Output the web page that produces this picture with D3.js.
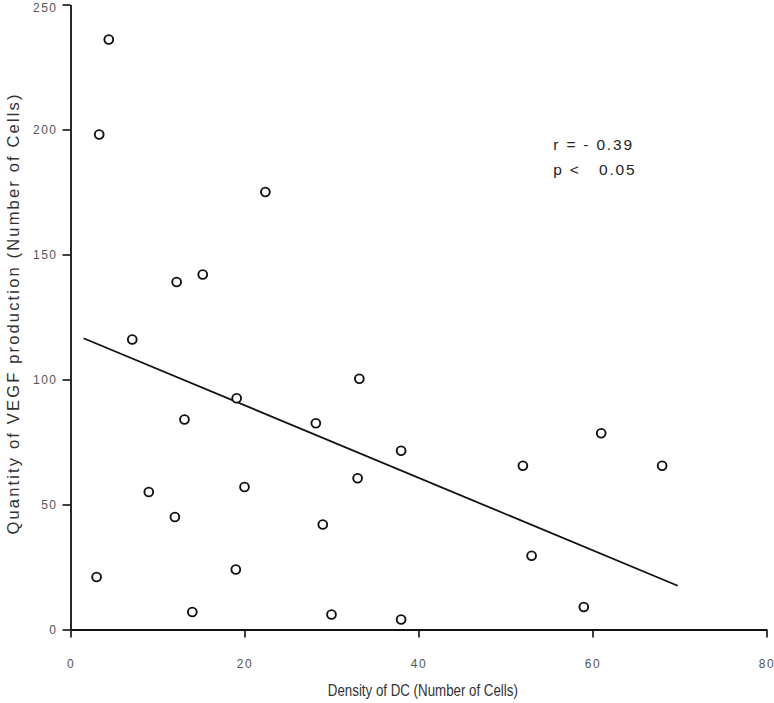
<!DOCTYPE html>
<html>
<head>
<meta charset="utf-8">
<script src="https://cdn.jsdelivr.net/npm/d3@7"></script>
<style>
  body { margin: 0; background: #fff; }
  svg { display: block; }
</style>
</head>
<body>
<div id="chart"></div>
<script>
// values
var densityDC = [3, 9, 12, 14, 20, 19, 29, 30, 33, 38, 38, 52, 61, 68, 53, 59,
                 4.4, 3.3, 22.4, 7.1, 12.2, 15.2, 13.1, 19.1, 28.2, 33.2];
var vegf = [21, 55, 45, 7, 57, 24, 42, 6, 60.5, 71.5, 4, 65.5, 78.5, 65.5, 29.5, 9,
            236, 198, 175, 116, 139, 142, 84, 92.5, 82.5, 100.3];
// fitted line endpoints
var fitX = [1.5, 69.8];
var fitY = [116.5, 17.5];
var xTicks = [0, 20, 40, 60, 80];
var yTicks = [0, 50, 100, 150, 200, 250];
var statLines = ["r = - 0.39", "p <   0.05"];

var margin = {top: 4.5, right: 7.5, bottom: 73.5, left: 70.5},
    width = 774 - margin.left - margin.right,
    height = 703 - margin.top - margin.bottom;

var svg = d3.select("#chart")
  .append("svg")
    .attr("width", 774)
    .attr("height", 703)
  .append("g")
    .attr("transform", "translate(" + margin.left + "," + margin.top + ")");

var x = d3.scaleLinear().domain([0, 80]).range([0, width]);
var y = d3.scaleLinear().domain([0, 250]).range([height, 0]);

// X axis
var gx = svg.append("g")
  .attr("transform", "translate(0," + height + ")")
  .call(d3.axisBottom(x).tickValues(xTicks).tickSize(8).tickSizeOuter(0).tickPadding(22));

// Y axis
var gy = svg.append("g")
  .call(d3.axisLeft(y).tickValues(yTicks).tickSize(8).tickSizeOuter(0).tickPadding(5));

[gx, gy].forEach(function(g) {
  g.select(".domain").attr("stroke", "#111").attr("stroke-width", 1.8);
  g.selectAll(".tick line").attr("stroke", "#111").attr("stroke-width", 1.6);
  g.selectAll(".tick text")
    .attr("fill", "#555")
    .style("font-family", "'Liberation Sans', Arial, sans-serif")
    .style("font-size", "12px")
    .style("letter-spacing", "1.5px");
});
// keep the top label inside the page
gy.selectAll(".tick text").filter(function(d) { return d === 250; }).attr("dy", "0.55em");

// regression line
svg.append("line")
  .attr("x1", x(fitX[0])).attr("y1", y(fitY[0]))
  .attr("x2", x(fitX[1])).attr("y2", y(fitY[1]))
  .attr("stroke", "#111")
  .attr("stroke-width", 1.8);

// points
svg.append("g")
  .selectAll("circle")
  .data(densityDC)
  .enter()
  .append("circle")
    .attr("cx", function(d) { return x(d); })
    .attr("cy", function(d, i) { return y(vegf[i]); })
    .attr("r", 4.4)
    .attr("fill", "white")
    .attr("stroke", "#111")
    .attr("stroke-width", 1.9);

// r / p annotation
svg.append("g")
  .selectAll("text")
  .data(statLines)
  .enter()
  .append("text")
    .attr("x", x(55.5))
    .attr("y", function(d, i) { return y(192) + i * 25; })
    .attr("fill", "#222")
    .style("font-family", "'Liberation Sans', Arial, sans-serif")
    .style("font-size", "15.5px")
    .style("letter-spacing", "1.8px")
    .style("white-space", "pre")
    .text(function(d) { return d; });

// axis titles
svg.append("text")
  .attr("x", x(40.5))
  .attr("y", height + 66)
  .attr("text-anchor", "middle")
  .attr("fill", "#333")
  .attr("textLength", 190)
  .attr("lengthAdjust", "spacingAndGlyphs")
  .style("font-family", "'Liberation Sans', Arial, sans-serif")
  .style("font-size", "16px")
  .text("Density of DC (Number of Cells)");

svg.append("text")
  .attr("transform", "translate(" + (-52) + "," + (y(126)) + ") rotate(-90)")
  .attr("text-anchor", "middle")
  .attr("fill", "#333")
  .attr("textLength", 440)
  .attr("lengthAdjust", "spacing")
  .style("font-family", "'Liberation Sans', Arial, sans-serif")
  .style("font-size", "16.5px")
  .text("Quantity of VEGF production (Number of Cells)");
</script>
</body>
</html>
